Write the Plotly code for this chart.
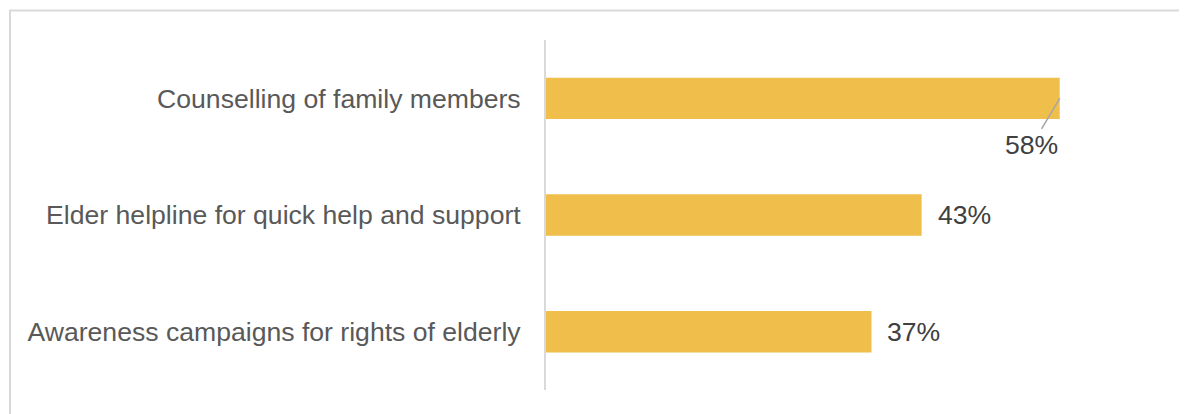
import plotly.graph_objects as go

categories = ["Counselling of family members",
              "Elder helpline for quick help and support",
              "Awareness campaigns for rights of elderly"]
values = [58.4, 42.7, 37.0]
labels = ["58%", "43%", "37%"]

BAR = "#F0BE4A"
GRID = "#D9D9D9"
FS = 26.6

# the page body adds an 8px margin, so the figure is a bit smaller than the window
W, H = 1179, 406
L, R, T, B = 538, 27, 32, 24
x_max = 69.8

fig = go.Figure(go.Bar(
    x=values, y=categories, orientation="h",
    marker=dict(color=BAR, line=dict(width=0)),
    width=0.355, hoverinfo="x+y"
))

# value labels; the first one sits below the bar with a leader line
for i, (cat, v, lab) in enumerate(zip(categories, values, labels)):
    if i == 0:
        fig.add_annotation(x=v, y=cat, text=lab, showarrow=True, arrowhead=0,
                           arrowwidth=1.5, arrowcolor="#A6A6A6",
                           ax=-28, ay=47, standoff=0,
                           font=dict(size=FS, color="#404040"))
    else:
        fig.add_annotation(x=v, y=cat, text=lab, showarrow=False,
                           xanchor="left", xshift=14,
                           font=dict(size=FS, color="#404040"))

# outer frame
pw = W - L - R
ph = H - T - B
fig.add_shape(type="rect", xref="paper", yref="paper",
              x0=(2 - L) / pw, x1=(W + 20 - L) / pw,
              y0=-40 / ph, y1=(H - B - 2.5) / ph,
              line=dict(color=GRID, width=2), layer="below")

fig.update_layout(
    width=W, height=H,
    margin=dict(l=L, r=R, t=T, b=B),
    paper_bgcolor="white", plot_bgcolor="white",
    font=dict(family="Liberation Sans, Arial, sans-serif", size=FS, color="#595959"),
    showlegend=False,
    bargap=0.65,
)
fig.update_xaxes(range=[0, x_max], visible=False, fixedrange=True)
fig.update_yaxes(range=[len(categories) - 0.5, -0.5], showline=True,
                 linecolor=GRID, linewidth=2,
                 showgrid=False, ticks="", ticklabelstandoff=18,
                 tickfont=dict(size=FS, color="#595959"), automargin=False)

fig.write_html("out.html")
